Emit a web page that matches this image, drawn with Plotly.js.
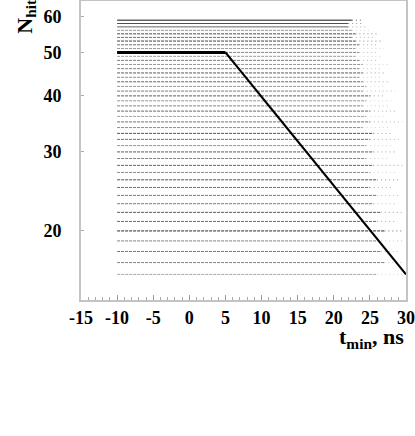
<!DOCTYPE html>
<html>
<head>
<meta charset="utf-8">
<script src="https://cdn.plot.ly/plotly-3.0.1.min.js"></script>
<style>
  html, body { margin: 0; padding: 0; background: #fff; }
  #plot { width: 415px; height: 436px; }
</style>
</head>
<body>
<div id="plot"></div>
<script>
// 水平线的 N 值 (16 ~ 59)
const nLevels = [16, 17, 18, 19, 20, 21, 22, 23, 24, 25, 26, 27, 28, 29, 30,
                 31, 32, 33, 34, 35, 36, 37, 38, 39, 40, 41, 42, 43, 44, 45,
                 46, 47, 48, 49, 50, 51, 52, 53, 54, 55, 56, 57, 58, 59];
// 每条线的灰度 (0 = 黑)
const lineShade = [170, 130, 120, 130, 40, 100, 90, 120, 120, 110, 80, 140, 100, 130, 90,
                   150, 110, 80, 140, 110, 160, 100, 130, 150, 90, 120, 150, 100, 140, 90,
                   130, 150, 120, 160, 130, 150, 110, 60, 110, 70, 150, 100, 80, 20];
// 线的起点和密集部分的终点 (ns)
const lineStart = -10;
const denseEnd = [26, 27, 26.5, 26, 27, 26, 26.5, 25.5, 26, 25, 26, 25, 25.5, 24.5, 25.5,
                  24.5, 25, 25.5, 24, 25, 24.5, 25, 24, 24.5, 25, 24, 24.5, 24, 23.5, 24,
                  23.5, 24, 23.5, 23, 23.5, 23, 23.5, 23, 22.5, 23, 22.5, 22, 22, 22.5];
// 稀疏尾部的终点 (ns)
const tailEnd = [29.5, 29.8, 29, 29.5, 29.6, 28.8, 29.5, 28.5, 29, 28, 29, 28.5, 29.5, 27.5, 28.5,
                 28, 29, 28, 27.5, 29.5, 27, 28.5, 27.5, 28, 27, 28.5, 27, 27.5, 26.5, 27,
                 26.5, 27.5, 26, 26.5, 26, 27, 26, 26.5, 25.5, 26, 25, 24.5, 24, 24];
// 实线显示的 N 值
const solidLevels = [57, 58, 59];

// 粗黑线: 平台 + 斜线
const kneeX = [-10, 5];
const kneeY = [50, 50];
const slopeX = [5, 30];
const slopeY = [50, 16];

// 刻度
const xTicks = [-15, -10, -5, 0, 5, 10, 15, 20, 25, 30];
const yTicks = [20, 30, 40, 50, 60];

const serif = 'Liberation Serif, Times New Roman, serif';

function gray(v) {
    return 'rgb(' + v + ',' + v + ',' + v + ')';
}

function initPlot() {
    const traces = [];

    // 每个 N 画一条密集线和一段稀疏尾巴
    nLevels.forEach(function(n, i) {
        const shade = lineShade[i];
        traces.push({
            type: 'scatter',
            mode: 'lines',
            x: [lineStart, denseEnd[i]],
            y: [n, n],
            line: {
                color: gray(shade),
                width: 1,
                dash: solidLevels.includes(n) ? 'solid' : '3px,1px'
            },
            hoverinfo: 'skip'
        });
        traces.push({
            type: 'scatter',
            mode: 'lines',
            x: [denseEnd[i], tailEnd[i]],
            y: [n, n],
            line: {
                color: gray(Math.min(215, shade + 70)),
                width: 1,
                dash: '1px,3px'
            },
            hoverinfo: 'skip'
        });
    });

    traces.push({
        type: 'scatter',
        mode: 'lines',
        x: kneeX,
        y: kneeY,
        line: { color: '#000', width: 3 }
    });
    traces.push({
        type: 'scatter',
        mode: 'lines',
        x: slopeX,
        y: slopeY,
        line: { color: '#000', width: 2.2 }
    });

    const tickFont = { family: serif, size: 18, color: '#000', weight: 'bold' };

    const layout = {
        width: 415,
        height: 436,
        showlegend: false,
        paper_bgcolor: '#fff',
        plot_bgcolor: '#fff',
        margin: { l: 81, r: 9, t: 1, b: 136 },
        xaxis: {
            range: [-15, 30],
            tickvals: xTicks,
            ticktext: xTicks.map(String),
            ticks: 'inside',
            ticklen: 5,
            tickcolor: '#999',
            minor: { dtick: 1, ticks: 'inside', ticklen: 3, tickcolor: '#aaa' },
            tickfont: tickFont,
            showgrid: false,
            zeroline: false,
            showline: true,
            mirror: true,
            linecolor: '#c4c4c4',
            linewidth: 2
        },
        yaxis: {
            type: 'log',
            range: [Math.log10(14.03), Math.log10(65.1)],
            tickvals: yTicks,
            ticktext: yTicks.map(String),
            ticks: 'inside',
            ticklen: 3,
            tickcolor: '#aaa',
            ticklabelstandoff: 14,
            tickfont: tickFont,
            showgrid: false,
            zeroline: false,
            showline: true,
            mirror: true,
            linecolor: '#c4c4c4',
            linewidth: 2
        },
        annotations: [
            {
                text: 't<sub>min</sub>, ns',
                xref: 'paper', yref: 'paper',
                x: 1.0, y: -0.074,
                xanchor: 'right', yanchor: 'top',
                showarrow: false,
                font: { family: serif, size: 22, color: '#000', weight: 'bold' }
            },
            {
                text: 'N<sub>hit</sub>',
                xref: 'paper', yref: 'paper',
                x: -0.17, y: 0.95,
                xanchor: 'center', yanchor: 'middle',
                textangle: -90,
                showarrow: false,
                font: { family: serif, size: 22, color: '#000', weight: 'bold' }
            }
        ]
    };

    Plotly.newPlot('plot', traces, layout, { staticPlot: true, displayModeBar: false });
}

document.addEventListener('DOMContentLoaded', function() {
    initPlot();
});
</script>
</body>
</html>
